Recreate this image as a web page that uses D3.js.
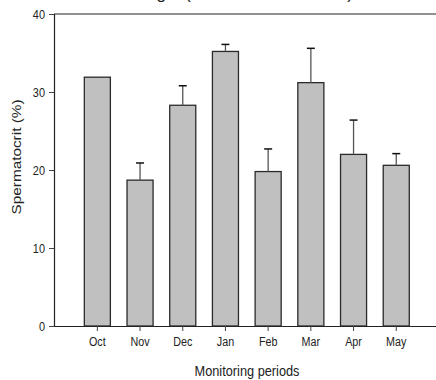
<!DOCTYPE html>
<html><head><meta charset="utf-8">
<script src="https://cdn.jsdelivr.net/npm/d3@7"></script>
<style>html,body{margin:0;padding:0;background:#fff;}svg{display:block;font-family:Arial,"Liberation Sans",sans-serif;}</style>
</head><body>
<svg id="c" width="436" height="380"></svg>
<script>
const months = ["Oct","Nov","Dec","Jan","Feb","Mar","Apr","May"];
const means = [31.9, 18.7, 28.3, 35.2, 19.8, 31.2, 22.0, 20.6];
const errors = [0, 2.2, 2.5, 0.9, 2.9, 4.4, 4.4, 1.5];
const yTicks = [0, 10, 20, 30, 40];
const titleLeft = "Male Broodstock Monitoring";
const titleRight = "(2018 - 2019 Season)";
const xTitle = "Monitoring periods";
const yTitle = "Spermatocrit (%)";

const svg = d3.select("#c");
const L = 54, R = 436, T = 14, B = 326;
const x = d3.scaleBand().domain(months).range([76, 417.6]).paddingInner(0.39).paddingOuter(0.195);
const y = d3.scaleLinear().domain([0, 40]).range([B, T]);

function squeeze(sel, f){ sel.each(function(){ const w=this.getComputedTextLength(); d3.select(this).attr("textLength", w*f).attr("lengthAdjust","spacingAndGlyphs"); }); }

// partial title cut off at top
const t1 = svg.append("text").attr("x",166).attr("y",-1).attr("text-anchor","end").attr("font-size",17).attr("fill","#222").text(titleLeft);
const t2 = svg.append("text").attr("x",185).attr("y",-1).attr("font-size",17).attr("fill","#222").attr("textLength",168).attr("lengthAdjust","spacingAndGlyphs").text(titleRight);

// bars
svg.append("g").selectAll("rect").data(months).join("rect")
  .attr("x", d=>x(d)).attr("width", x.bandwidth())
  .attr("y", (d,i)=>y(means[i])).attr("height", (d,i)=>y(0)-y(means[i]))
  .attr("fill","#c0c0c0").attr("stroke","#2a2a2a").attr("stroke-width",1.3);

// error bars
const eg = svg.append("g");
months.forEach((m,i)=>{
  if(!errors[i]) return;
  const cx = x(m)+x.bandwidth()/2;
  eg.append("line").attr("x1",cx).attr("x2",cx).attr("y1",y(means[i])).attr("y2",y(means[i]+errors[i])).attr("stroke","#555").attr("stroke-width",1.3);
  eg.append("line").attr("x1",cx-4).attr("x2",cx+4).attr("y1",y(means[i]+errors[i])).attr("y2",y(means[i]+errors[i])).attr("stroke","#111").attr("stroke-width",1.5);
});

// top frame line
svg.append("line").attr("x1",L).attr("x2",R).attr("y1",y(40)).attr("y2",y(40)).attr("stroke","#222").attr("stroke-width",1.2);

// y axis
const ya = svg.append("g").attr("transform",`translate(${L},0)`)
  .call(d3.axisLeft(y).tickValues(yTicks).tickSize(5).tickPadding(4).tickFormat(d3.format("d")));
ya.select(".domain").attr("stroke","#222").attr("stroke-width",1.2);
ya.selectAll(".tick line").attr("stroke","#444");
ya.selectAll("text").attr("font-size",13).attr("fill","#222").attr("font-family","Arial, 'Liberation Sans', sans-serif");
squeeze(ya.selectAll("text"),0.84);

// x axis
const xa = svg.append("g").attr("transform",`translate(0,${B})`)
  .call(d3.axisBottom(x).tickSize(5).tickPadding(6).tickSizeOuter(0));
xa.select(".domain").attr("d",`M${L},0.5H${R}`).attr("stroke","#222").attr("stroke-width",1.2);
xa.selectAll(".tick line").attr("stroke","#444");
xa.selectAll("text").attr("font-size",12.5).attr("fill","#222").attr("font-family","Arial, 'Liberation Sans', sans-serif");
squeeze(xa.selectAll("text"),0.86);

// axis titles
svg.append("text").attr("x",247).attr("y",376).attr("text-anchor","middle").attr("font-size",15).attr("fill","#222")
  .attr("textLength",105).attr("lengthAdjust","spacingAndGlyphs").text(xTitle);
svg.append("text").attr("transform","translate(21,157) rotate(-90)").attr("text-anchor","middle").attr("font-size",12.5).attr("fill","#222")
  .attr("textLength",115).attr("lengthAdjust","spacingAndGlyphs").text(yTitle);
</script>
</body></html>
